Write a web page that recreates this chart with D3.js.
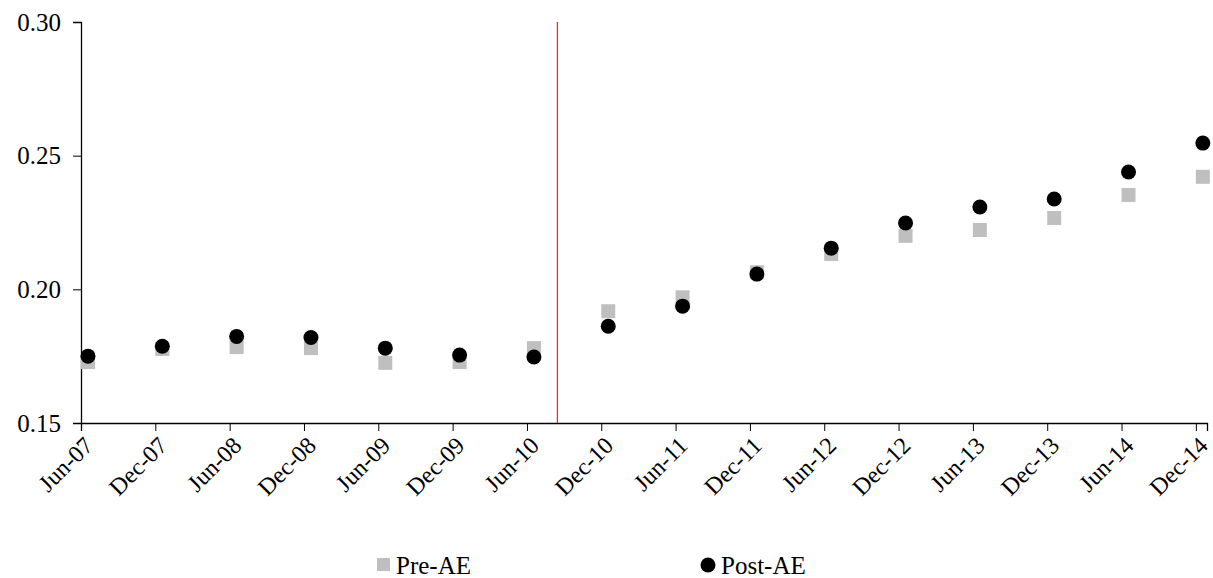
<!DOCTYPE html>
<html><head><meta charset="utf-8">
<script src="https://cdn.jsdelivr.net/npm/d3@7"></script>
<style>body{margin:0;background:#fff}text{font-family:"Liberation Serif",serif}</style>
</head><body><div id="c"></div>
<script>
var categories = ["Jun-07","Dec-07","Jun-08","Dec-08","Jun-09","Dec-09","Jun-10","Dec-10","Jun-11","Dec-11","Jun-12","Dec-12","Jun-13","Dec-13","Jun-14","Dec-14"];
var preAE = [0.1728,0.1777,0.1784,0.1780,0.1725,0.1728,0.1780,0.1918,0.1970,0.2064,0.2132,0.2200,0.2222,0.2267,0.2353,0.2421];
var postAE = [0.1750,0.1787,0.1824,0.1820,0.1780,0.1754,0.1747,0.1862,0.1937,0.2057,0.2154,0.2248,0.2308,0.2338,0.2439,0.2547];
var yTicks = [0.15,0.20,0.25,0.30];
var eventIndex = 6.41;

var width = 1213, height = 578;
var svg = d3.select("#c").append("svg").attr("width", width).attr("height", height);

// ticks sit at index i, points sit slightly right of them
var x = d3.scaleLinear().domain([0, 15.15]).range([81, 1207]);
var off = 0.094;
var y = d3.scaleLinear().domain([0.15, 0.30]).range([423, 22]);

svg.append("g").attr("transform", "translate(81,0)")
    .call(d3.axisLeft(y).tickValues(yTicks).tickFormat(d3.format(".2f")).tickSizeOuter(0).tickSize(8))
    .call(function(g) {
        g.select(".domain").attr("stroke", "#000").attr("stroke-width", 1.3);
        g.selectAll("text").style("font-size", "25px").attr("x", -20).style("font-family", "Liberation Serif").attr("fill", "#000");
    });

var xa = svg.append("g").attr("transform", "translate(0,423)")
    .call(d3.axisBottom(x).tickValues(d3.range(16)).tickFormat(function(i) { return categories[i]; }).tickSizeOuter(0).tickSize(8));
xa.select(".domain").attr("stroke", "#000").attr("stroke-width", 1.3);
xa.selectAll("text").style("font-size", "24px").style("font-family", "Liberation Serif").attr("fill", "#000")
    .attr("text-anchor", "end").attr("dy", "0.35em")
    .attr("transform", "translate(7,18) rotate(-45)").attr("x", 0).attr("y", 0);

svg.append("line").attr("x1", x(eventIndex)).attr("x2", x(eventIndex))
    .attr("y1", y(0.30)).attr("y2", y(0.15)).attr("stroke", "#e8302a").attr("stroke-width", 1.3);

svg.selectAll(".pre").data(preAE).enter().append("rect")
    .attr("x", function(d, i) { return x(i + off) - 7; })
    .attr("y", function(d) { return y(d) - 7; })
    .attr("width", 14).attr("height", 14).attr("fill", "#bfbfbf");

svg.selectAll(".post").data(postAE).enter().append("circle")
    .attr("cx", function(d, i) { return x(i + off); })
    .attr("cy", function(d) { return y(d); })
    .attr("r", 7.5).attr("fill", "#000");

var lg = svg.append("g");
lg.append("rect").attr("x", 377).attr("y", 558).attr("width", 13).attr("height", 13).attr("fill", "#bfbfbf");
lg.append("text").attr("x", 396).attr("y", 574).style("font-size", "25px").text("Pre-AE");
lg.append("circle").attr("cx", 708).attr("cy", 565).attr("r", 7.5).attr("fill", "#000");
lg.append("text").attr("x", 721).attr("y", 574).style("font-size", "25px").text("Post-AE");
</script></body></html>
